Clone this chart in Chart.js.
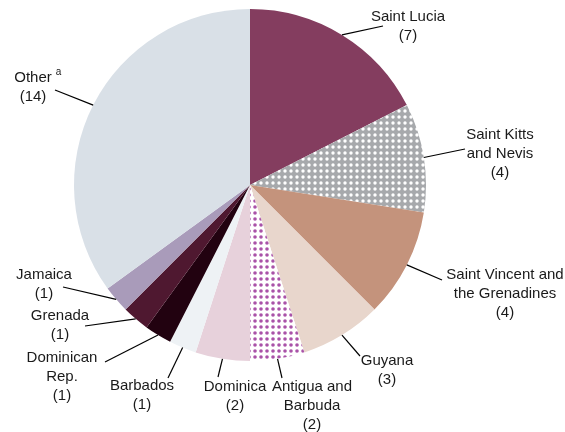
<!DOCTYPE html>
<html>
<head>
<meta charset="utf-8">
<script src="https://cdn.jsdelivr.net/npm/chart.js@4.4.1/dist/chart.umd.min.js"></script>
<style>
  html, body { margin: 0; padding: 0; background: #fff; }
  #wrap { width: 565px; height: 432px; position: relative; }
</style>
</head>
<body>
<div id="wrap"><canvas id="pie"></canvas></div>
<script>
// --- Datos ---

const countries = [
  "Saint Lucia", "Saint Kitts and Nevis", "Saint Vincent and the Grenadines",
  "Guyana", "Antigua and Barbuda", "Dominica", "Barbados",
  "Dominican Rep.", "Grenada", "Jamaica", "Other"
];
const counts = [7, 4, 4, 3, 2, 2, 1, 1, 1, 1, 14];

// texto de cada etiqueta, el valor "(n)" se añade abajo
const labelLines = [
  ["Saint Lucia"],
  ["Saint Kitts", "and Nevis"],
  ["Saint Vincent and", "the Grenadines"],
  ["Guyana"],
  ["Antigua and", "Barbuda"],
  ["Dominica"],
  ["Barbados"],
  ["Dominican", "Rep."],
  ["Grenada"],
  ["Jamaica"],
  ["Other"]
];

// --- Layout de etiquetas: centro del texto, primera línea, y fin de la guía ---

const labelPos = [
  { x: 408, y: 17,  lx: 383, ly: 26 },
  { x: 500, y: 135, lx: 465, ly: 149 },
  { x: 505, y: 275, lx: 442, ly: 280 },
  { x: 387, y: 361, lx: 360, ly: 356 },
  { x: 312, y: 387, lx: 282, ly: 378 },
  { x: 235, y: 387, lx: 218, ly: 377 },
  { x: 142, y: 386, lx: 168, ly: 378 },
  { x: 62,  y: 358, lx: 105, ly: 362 },
  { x: 60,  y: 316, lx: 85,  ly: 326 },
  { x: 44,  y: 275, lx: 63,  ly: 287 },
  { x: 33,  y: 78,  lx: 55,  ly: 90 }
];
const LINE_H = 19;

// --- Tramas de puntos ---

function dotPattern(bg, dot, size, r) {
  const c = document.createElement("canvas");
  c.width = size;
  c.height = size;
  const g = c.getContext("2d");
  g.fillStyle = bg;
  g.fillRect(0, 0, size, size);
  g.fillStyle = dot;
  g.beginPath();
  g.arc(size / 2, size / 2, r, 0, Math.PI * 2);
  g.fill();
  return g.createPattern(c, "repeat");
}

const ctx = document.getElementById("pie").getContext("2d");
const greyDots = dotPattern("#a7a9ac", "#ffffff", 6, 1.7);
const purpleDots = dotPattern("#ffffff", "#a952a8", 6, 1.8);

const colors = [
  "#843d5f", greyDots, "#c4937c", "#e8d6cc", purpleDots, "#e7d1db",
  "#eef2f5", "#220210", "#4f1830", "#a99bba", "#d9e0e7"
];

// --- Etiquetas y líneas guía ---

const calloutPlugin = {
  id: "callouts",
  afterDatasetsDraw(chart) {
    const c = chart.ctx;
    const arcs = chart.getDatasetMeta(0).data;
    c.save();
    c.strokeStyle = "#000";
    c.lineWidth = 1.2;
    arcs.forEach((arc, i) => {
      const p = labelPos[i];
      const mid = (arc.startAngle + arc.endAngle) / 2;
      const sx = arc.x + Math.cos(mid) * arc.outerRadius;
      const sy = arc.y + Math.sin(mid) * arc.outerRadius;
      c.beginPath();
      c.moveTo(sx, sy);
      c.lineTo(p.lx, p.ly);
      c.stroke();
    });

    c.fillStyle = "#1a1a1a";
    c.textAlign = "center";
    c.textBaseline = "middle";
    c.font = '15px "Liberation Sans", Arial, sans-serif';
    arcs.forEach((arc, i) => {
      const p = labelPos[i];
      const lines = labelLines[i].concat(`(${counts[i]})`);
      lines.forEach((t, k) => c.fillText(t, p.x, p.y + k * LINE_H));
    });

    // superíndice de "Other"
    const o = labelPos[counts.length - 1];
    const w = c.measureText("Other").width;
    c.font = '10px "Liberation Sans", Arial, sans-serif';
    c.textAlign = "left";
    c.fillText("a", o.x + w / 2 + 4, o.y - 6);
    c.restore();
  }
};

new Chart(ctx, {
  type: "pie",
  data: {
    labels: countries,
    datasets: [{
      data: counts,
      backgroundColor: colors,
      borderWidth: 0,
      hoverOffset: 0
    }]
  },
  options: {
    responsive: true,
    maintainAspectRatio: false,
    animation: false,
    events: [],
    layout: { padding: { left: 74, right: 139, top: 9, bottom: 71 } },
    plugins: {
      legend: { display: false },
      tooltip: { enabled: false }
    }
  },
  plugins: [calloutPlugin]
});
</script>
</body>
</html>
